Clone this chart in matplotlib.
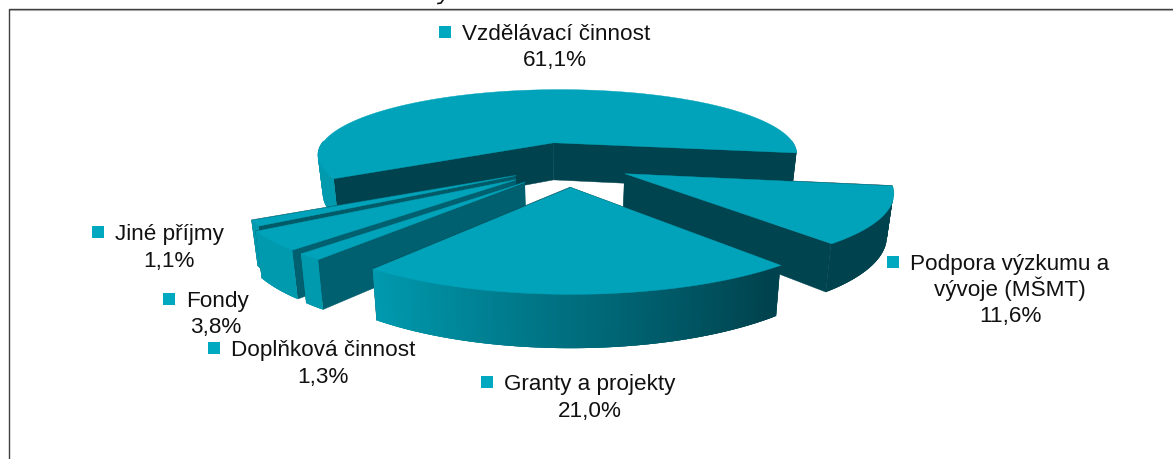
import numpy as np
import matplotlib
matplotlib.use("Agg")
import matplotlib.pyplot as plt
from matplotlib.collections import PolyCollection
from matplotlib.colors import to_rgb

# ---- data
categories = ["Vzdělávací činnost", "Podpora výzkumu a\nvývoje (MŠMT)", "Granty a projekty",
              "Doplňková činnost", "Fondy", "Jiné příjmy"]
values = [61.1, 11.6, 21.0, 1.3, 3.8, 1.1]

# ---- style
explode = [0.325, 0.25, 0.30, 0.30, 0.30, 0.27]
radius = [0.985, 1.0, 1.02, 1.0, 1.0, 1.0]
arc_shift = [0.018, 0.0, 0.0, 0.0, 0.0, 0.0]
apex_shift = [0.0, 0.0, 0.0, 0.025, 0.025, 0.025]
side_colors = ["#00434E", "#00444F", "#00505C", "#00606F", "#00606F", "#005A68"]
draw_order = [0, 1, 5, 4, 3, 2]
label_pos = [(462, 32, 555, 58), (910, 262, 1010, 288), (504, 382, 590, 409),
             (231, 348, 323, 375), (186, 299, 216, 325), (115, 232, 169, 259)]
TOP = "#00A3B9"
WALL_LIGHT, WALL_DARK = to_rgb("#009AAF"), to_rgb("#00424D")
MARKER = "#00A8C0"
FONT = "Liberation Sans"
FS = 16.2
BASE = 7.6

# ---- projection of the pie plane onto the page
X0, Y0, B, A, K, DEPTH, SHRINK = 568, 164, 254, 72.4, 0.2, 40, 0.98
START = 211.0


def project(u, v, bottom=False):
    s = 1.0 / (1.0 + K * np.asarray(v, float))
    if bottom:
        return X0 + B * np.asarray(u) * s * SHRINK, Y0 + (-A * np.asarray(v) + DEPTH) * s
    return X0 + B * np.asarray(u) * s, Y0 - A * np.asarray(v) * s


def to_xy(x, y):
    return np.column_stack([x, y])


fig = plt.figure(figsize=(11.73, 4.59), dpi=100, facecolor="white")
ax = fig.add_axes([0, 0, 1, 1])
ax.set_xlim(0, 1173)
ax.set_ylim(459, 0)
ax.axis("off")

# slice spans, clockwise from START
spans = []
a = START
for val in values:
    spans.append((a, a - val * 3.6))
    a -= val * 3.6

z = 2
for i in draw_order:
    a0, a1 = spans[i]
    mid = np.radians((a0 + a1) / 2)
    ou, ov = explode[i] * np.cos(mid), explode[i] * np.sin(mid)
    th = np.radians(np.linspace(a0, a1, max(int(abs(a1 - a0) * 2), 8)))
    u = ou + arc_shift[i] + radius[i] * np.cos(th)
    v = ov + radius[i] * np.sin(th)
    tx, ty = project(u, v)
    bx, by = project(u, v, bottom=True)
    ax_t, ay_t = project(ou + apex_shift[i], ov)
    ax_b, ay_b = project(ou + apex_shift[i], ov, bottom=True)

    # flat cut faces
    faces = []
    for k in (0, -1):
        faces.append([(ax_t, ay_t), (tx[k], ty[k]), (bx[k], by[k]), (ax_b, ay_b)])
    ax.add_collection(PolyCollection(faces, facecolors=side_colors[i], edgecolors=side_colors[i],
                                     linewidths=0.3, zorder=z))
    z += 1

    # outer wall, shaded from left to right; each strip overlaps the next to hide seams
    idx = [k for k in range(len(th) - 1) if np.sin((th[k] + th[k + 1]) / 2) <= 0.02]
    order = sorted(idx, key=lambda k: -np.cos(th[k]))
    polys, cols = [], []
    for k in order:
        j0, j1 = max(k - 1, idx[0]), min(k + 2, idx[-1] + 1)
        polys.append(np.vstack([to_xy(tx[j0:j1 + 1], ty[j0:j1 + 1]),
                                to_xy(bx[j0:j1 + 1], by[j0:j1 + 1])[::-1]]))
        t = np.clip((np.cos((th[k] + th[k + 1]) / 2) + 0.6) / 1.2, 0, 1)
        cols.append(tuple((1 - t) * l + t * d for l, d in zip(WALL_LIGHT, WALL_DARK)))
    if polys:
        ax.add_collection(PolyCollection(polys, facecolors=cols, edgecolors="none",
                                         linewidths=0, zorder=z))
    z += 1

    # top surface
    top = np.vstack([[(ax_t, ay_t)], to_xy(tx, ty)])
    ax.add_collection(PolyCollection([top], facecolors=TOP, edgecolors=TOP, linewidths=0.3, zorder=z))
    z += 1

# labels with legend-like squares
for name, val, (tx0, ty0, vx, vy) in zip(categories, values, label_pos):
    lines = name.split("\n")
    ax.text(tx0, ty0 + BASE, lines[0], family=FONT, fontsize=FS, color="#111111",
            ha="left", va="baseline", zorder=50)
    ax.plot([tx0 - 17], [ty0], marker="s", ms=8.6, mfc=MARKER, mec=MARKER, mew=0, ls="none", zorder=50)
    yy = vy
    if len(lines) > 1:
        ax.text(vx, vy + BASE, lines[1], family=FONT, fontsize=FS, color="#111111",
                ha="center", va="baseline", zorder=50)
        yy = vy + 26
    ax.text(vx, yy + BASE, f"{val:.1f}".replace(".", ",") + "%", family=FONT, fontsize=FS, color="#111111",
            ha="center", va="baseline", zorder=50)

# chart frame (open at right and bottom of the crop)
ax.plot([8.5, 8.5, 1173], [459, 9, 9], color="#3F3F3F", lw=1.0, zorder=60, solid_capstyle="butt")
ax.plot([9, 1173], [10, 10], color="#BDBDBD", lw=0.8, zorder=59)

# ink left by the cut-off heading at the very top of the crop (not legible as text)
ax.plot([443, 441, 438], [0, 3, 3.5], color="#111111", lw=1.2, zorder=50)

fig.savefig("out.png", dpi=100, facecolor="white")
